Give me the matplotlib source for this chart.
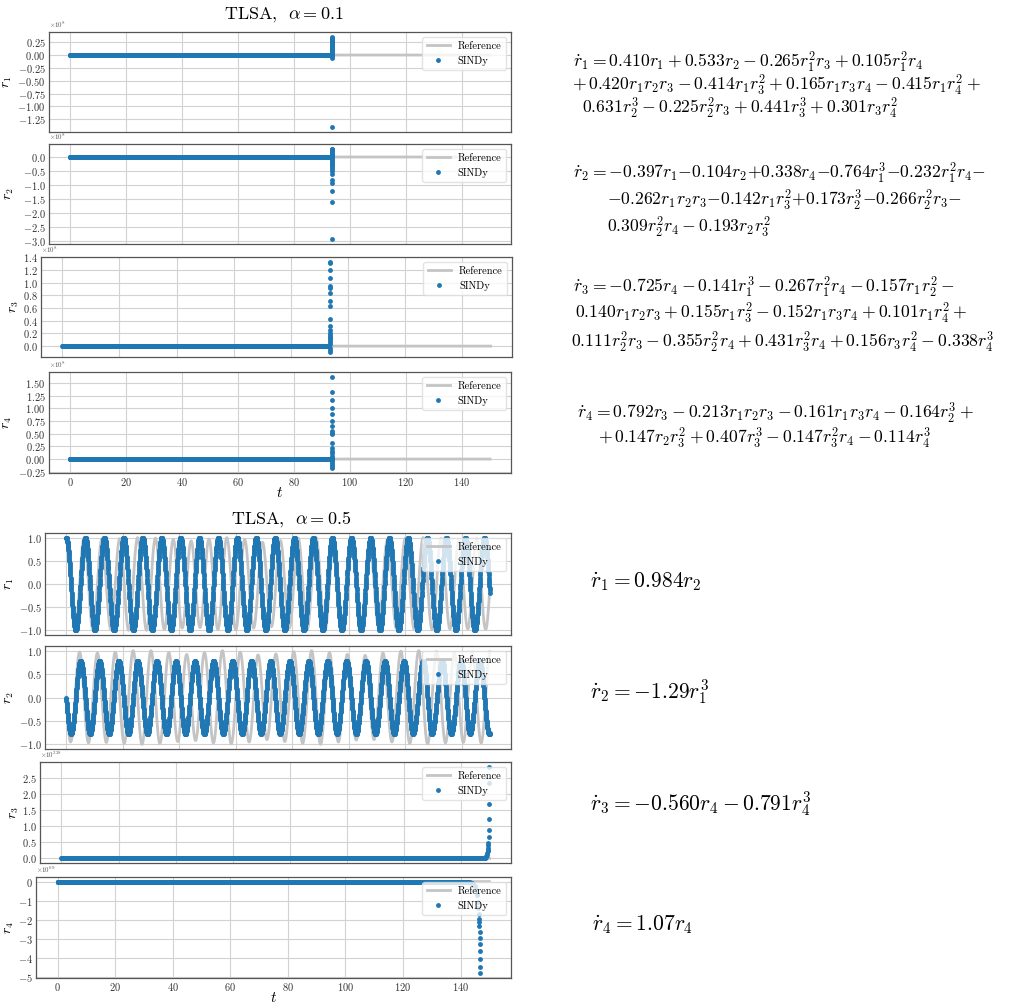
import numpy as np
import matplotlib
matplotlib.use("Agg")
import matplotlib.pyplot as plt
from matplotlib.ticker import MaxNLocator

plt.rcParams["font.family"] = "serif"
plt.rcParams["font.serif"] = ["cmr10"]
plt.rcParams["mathtext.fontset"] = "cm"
plt.rcParams["axes.formatter.use_mathtext"] = True
plt.rcParams["axes.unicode_minus"] = True

W, H = 1018, 1006
BLUE = "#1f77b4"
GRAY = "#c4c4c4"

# ---------------- data ----------------
t_end = 150.0

# reference (alpha = 0.5 panel shows it at O(1)); extrema times / values
ref_r1_peak_t = [0.0, 6.32, 12.64, 18.96, 25.28, 31.60, 37.92, 44.24, 50.56, 56.88, 63.20, 69.52,
                 75.84, 82.16, 88.48, 94.80, 101.12, 107.44, 113.76, 120.08, 126.40, 132.72, 139.04,
                 145.36, 151.68]
ref_r1_peak_v = [1.0, 0.99, 0.97, 0.98, 1.0, 0.99, 0.96, 0.93, 0.97, 1.0, 0.96, 0.90, 0.94, 0.99,
                 1.0, 0.97, 0.93, 0.90, 0.95, 0.99, 1.0, 0.98, 0.95, 0.97, 0.99]
ref_r1_trough_t = [3.16, 9.48, 15.80, 22.12, 28.44, 34.76, 41.08, 47.40, 53.72, 60.04, 66.36, 72.68,
                   79.00, 85.32, 91.64, 97.96, 104.28, 110.60, 116.92, 123.24, 129.56, 135.88,
                   142.20, 148.52]
ref_r1_trough_v = [-1.0, -0.99, -0.98, -1.0, -1.0, -0.98, -0.95, -0.94, -0.98, -0.99, -0.95, -0.92,
                   -0.95, -0.99, -1.0, -0.96, -0.92, -0.91, -0.96, -0.98, -0.99, -0.97, -0.97, -0.98]

ref_r2_peak_t = [-1.58, 4.74, 11.06, 17.38, 23.70, 30.02, 36.34, 42.66, 48.98, 55.30, 61.62, 67.94,
                 74.26, 80.58, 86.90, 93.22, 99.54, 105.86, 112.18, 118.50, 124.82, 131.14, 137.46,
                 143.78, 150.10]
ref_r2_peak_v = [0.97, 0.97, 0.95, 0.97, 1.0, 1.0, 0.96, 0.92, 0.96, 1.0, 0.97, 0.91, 0.93, 0.98,
                 1.0, 0.96, 0.92, 0.90, 0.95, 0.99, 1.0, 0.98, 0.95, 0.97, 0.98]
ref_r2_trough_t = [1.58, 7.90, 14.22, 20.54, 26.86, 33.18, 39.50, 45.82, 52.14, 58.46, 64.78, 71.10,
                   77.42, 83.74, 90.06, 96.38, 102.70, 109.02, 115.34, 121.66, 127.98, 134.30,
                   140.62, 146.94, 153.26]
ref_r2_trough_v = [-0.95, -0.97, -0.96, -0.98, -1.0, -0.98, -0.94, -0.92, -0.97, -0.99, -0.95, -0.90,
                   -0.94, -0.98, -1.0, -0.95, -0.91, -0.90, -0.95, -0.98, -0.99, -0.97, -0.96, -0.97,
                   -0.98]

# SINDy, alpha = 0.5: r1, r2 oscillations
sindy_r1_peak_t = [0.0, 6.8, 13.5, 20.4, 27.1, 33.8, 40.5, 47.2, 53.9, 60.6, 67.3, 74.0, 80.8, 87.5,
                   94.2, 101.0, 107.8, 114.4, 121.1, 127.8, 134.6, 141.3, 148.1]
sindy_r1_trough_t = [3.4, 10.15, 16.95, 23.75, 30.45, 37.15, 43.85, 50.55, 57.25, 63.95, 70.65,
                     77.4, 84.15, 90.85, 97.6, 104.4, 111.1, 117.75, 124.45, 131.2, 137.95, 144.7,
                     151.5]
sindy_r1_amp = 1.0
sindy_r2_peak_t = [-1.7, 5.1, 11.8, 18.6, 25.3, 32.1, 38.9, 45.6, 52.2, 58.9, 65.6, 72.4, 79.2, 85.9,
                   92.6, 99.3, 106.1, 112.9, 119.6, 126.4, 133.1, 139.8, 146.4, 153.2]
sindy_r2_trough_t = [1.7, 8.5, 15.2, 22.1, 28.8, 35.5, 42.2, 48.9, 55.6, 62.3, 69.0, 75.7, 82.5,
                     89.2, 95.9, 102.7, 109.5, 116.1, 122.8, 129.5, 136.3, 143.0, 149.8]
sindy_r2_amp = 0.78

# SINDy, alpha = 0.1: blow-up at t ~ 93.6 (values in units of the offset)
blowup_t_a01 = 93.6
burst_a01 = {
    1: [0.36, 0.34, 0.32, 0.30, 0.28, 0.26, 0.24, 0.22, 0.20, 0.18, 0.16, 0.14, 0.12, 0.10, 0.08,
        0.06, 0.04, 0.02, -0.03, -0.05, -1.41],
    2: [0.30, 0.27, 0.24, 0.21, 0.18, 0.15, 0.12, 0.09, 0.06, 0.03, -0.05, -0.10, -0.15, -0.20,
        -0.25, -0.30, -0.35, -0.43, -0.51, -0.60, -0.80, -0.92, -1.21, -1.59, -2.93],
    3: [1.33, 1.31, 1.19, 1.07, 0.94, 0.92, 0.83, 0.71, 0.63, 0.43, 0.32, 0.25, 0.21, 0.18, 0.15,
        0.12, 0.09, 0.06, 0.03, -0.03, -0.06, -0.10],
    4: [1.63, 1.32, 1.17, 1.00, 0.89, 0.75, 0.65, 0.555, 0.52, 0.49, 0.31, 0.22, 0.165, 0.11, 0.066,
        0.03, -0.03, -0.07, -0.11, -0.15, -0.185],
}
scale_a01 = {1: 1e8, 2: 1e8, 3: 1e8, 4: 1e8}

# SINDy, alpha = 0.5: r3 / r4 tails
r3_tail_t = [148.4, 148.7, 148.9, 149.1, 149.2, 149.3, 149.4, 149.5, 149.55, 149.6, 149.65, 149.7,
             149.75, 149.8, 149.85, 149.9]
r3_tail_v = [0.02, 0.05, 0.08, 0.12, 0.17, 0.22, 0.26, 0.33, 0.41, 0.49, 0.656, 0.885, 1.23, 1.68,
             2.32, 2.84]
r3_scale = 1e228
r4_tail_t = [142.6, 143.2, 143.8, 144.4, 144.9, 145.3, 145.7, 146.0, 146.2, 146.35, 146.45, 146.5,
             146.55, 146.6, 146.63, 146.66, 146.7, 146.73, 146.76, 146.8]
r4_tail_v = [-0.01, -0.03, -0.07, -0.14, -0.25, -0.42, -0.70, -1.05, -1.40, -1.70, -1.94, -2.12,
             -2.35, -2.62, -2.93, -3.27, -3.62, -4.05, -4.49, -4.81]
r4_scale = 1e69

eqs_a01 = [
    [r"$\dot{r}_1 = 0.410r_1 + 0.533r_2 - 0.265r_1^2r_3 + 0.105r_1^2r_4$",
     r"$+\, 0.420r_1r_2r_3 - 0.414r_1r_3^2 + 0.165r_1r_3r_4 - 0.415r_1r_4^2 +$",
     r"$0.631r_2^3 - 0.225r_2^2r_3 + 0.441r_3^3 + 0.301r_3r_4^2$"],
    [r"$\dot{r}_2 = -0.397r_1{-}0.104r_2{+}0.338r_4{-}0.764r_1^3{-}0.232r_1^2r_4{-}$",
     r"${-}0.262r_1r_2r_3{-}0.142r_1r_3^2{+}0.173r_2^3{-}0.266r_2^2r_3{-}$",
     r"$0.309r_2^2r_4 - 0.193r_2r_3^2$"],
    [r"$\dot{r}_3 = -0.725r_4 - 0.141r_1^3 - 0.267r_1^2r_4 - 0.157r_1r_2^2 -$",
     r"$0.140r_1r_2r_3 + 0.155r_1r_3^2 - 0.152r_1r_3r_4 + 0.101r_1r_4^2 +$",
     r"$0.111r_2^2r_3 - 0.355r_2^2r_4 + 0.431r_3^2r_4 + 0.156r_3r_4^2 - 0.338r_4^3$"],
    [r"$\dot{r}_4 = 0.792r_3 - 0.213r_1r_2r_3 - 0.161r_1r_3r_4 - 0.164r_2^3 +$",
     r"$+\, 0.147r_2r_3^2 + 0.407r_3^3 - 0.147r_3^2r_4 - 0.114r_4^3$"],
]
eqs_a05 = [r"$\dot{r}_1 = 0.984r_2$", r"$\dot{r}_2 = -1.29r_1^3$",
           r"$\dot{r}_3 = -0.560r_4 - 0.791r_4^3$", r"$\dot{r}_4 = 1.07r_4$"]


def through_extrema(t, peak_t, peak_v, trough_t, trough_v):
    # join the read extrema with half-cosine arcs
    et = np.concatenate([peak_t, trough_t])
    ev = np.concatenate([peak_v, trough_v])
    order = np.argsort(et)
    et, ev = et[order], ev[order]
    idx = np.clip(np.searchsorted(et, t) - 1, 0, len(et) - 2)
    ta, tb = et[idx], et[idx + 1]
    va, vb = ev[idx], ev[idx + 1]
    ph = np.clip((t - ta) / (tb - ta), 0, 1)
    return (va + vb) / 2 + (va - vb) / 2 * np.cos(np.pi * ph)


t_ref = np.linspace(0, t_end, 1501)
t_sindy = np.arange(0, t_end + 1e-9, 0.05)

ref = {
    1: through_extrema(t_ref, np.array(ref_r1_peak_t), np.array(ref_r1_peak_v),
                       np.array(ref_r1_trough_t), np.array(ref_r1_trough_v)),
    2: through_extrema(t_ref, np.array(ref_r2_peak_t), np.array(ref_r2_peak_v),
                       np.array(ref_r2_trough_t), np.array(ref_r2_trough_v)),
    3: np.zeros_like(t_ref),
    4: np.zeros_like(t_ref),
}

# alpha = 0.1 SINDy series
a01 = {}
t_pre = t_sindy[t_sindy < blowup_t_a01]
for k in range(1, 5):
    b = np.array(burst_a01[k]) * scale_a01[k]
    a01[k] = (np.concatenate([t_pre, np.full(len(b), blowup_t_a01)]),
              np.concatenate([np.zeros_like(t_pre), b]))

# alpha = 0.5 SINDy series
a05 = {}
a05[1] = (t_sindy, through_extrema(t_sindy, np.array(sindy_r1_peak_t),
                                   np.full(len(sindy_r1_peak_t), sindy_r1_amp),
                                   np.array(sindy_r1_trough_t),
                                   np.full(len(sindy_r1_trough_t), -sindy_r1_amp)))
a05[2] = (t_sindy, through_extrema(t_sindy, np.array(sindy_r2_peak_t),
                                   np.full(len(sindy_r2_peak_t), sindy_r2_amp),
                                   np.array(sindy_r2_trough_t),
                                   np.full(len(sindy_r2_trough_t), -sindy_r2_amp)))
t3 = t_sindy[t_sindy < r3_tail_t[0]]
a05[3] = (np.concatenate([t3, r3_tail_t]),
          np.concatenate([np.zeros_like(t3), np.array(r3_tail_v) * r3_scale]))
t4 = t_sindy[t_sindy < r4_tail_t[0]]
a05[4] = (np.concatenate([t4, r4_tail_t]),
          np.concatenate([np.zeros_like(t4), np.array(r4_tail_v) * r4_scale]))

# ---------------- layout (pixel boxes: left, top, right, bottom) ----------------
boxes_a01 = [(49, 32, 511, 132), (49, 144, 511, 244), (41, 257, 512, 357), (49, 372, 511, 473)]
boxes_a05 = [(45, 533, 511, 635), (45, 646, 511, 749), (40, 762, 511, 863), (36, 877, 511, 978)]
ylab_x_a01 = [14, 16, 21, 14]
ylab_x_a05 = [16, 16, 21, 16]
nbins_a01 = [8, 8, 8, 8]
nbins_a05 = [5, 5, 7, 6]

fig = plt.figure(figsize=(W / 100, H / 100), dpi=100)


def add_ax(box):
    l, t, r, b = box
    return fig.add_axes([l / W, 1 - b / H, (r - l) / W, (b - t) / H])


def style(ax, k, box, ylab_x, nbins, last):
    ax.grid(True, color="#d2d2d2", lw=0.8)
    ax.set_axisbelow(True)
    for s in ax.spines.values():
        s.set_color("#555555")
        s.set_linewidth(0.9)
    ax.yaxis.set_major_locator(MaxNLocator(nbins=nbins, steps=[1, 2, 2.5, 5, 10]))
    ax.tick_params(length=0, labelsize=7.5, labelcolor="#333333", pad=2.5)
    ax.yaxis.get_offset_text().set_fontsize(5)
    ax.yaxis.get_offset_text().set_color("#555555")
    ax.set_xticks([0, 20, 40, 60, 80, 100, 120, 140])
    ax.set_xlim(-7.5, 157.5)
    if not last:
        ax.set_xticklabels([])
    else:
        ax.set_xlabel(r"$t$", fontsize=11, labelpad=-2)
    ax.set_ylabel(r"$r_%d$" % k, fontsize=10)
    l, t, r, b = box
    ax.yaxis.set_label_coords((ylab_x - l) / (r - l), 0.5)
    ax.legend(loc="upper right", fontsize=7.5, framealpha=0.8, edgecolor="#dddddd",
              handlelength=2.2, borderaxespad=0.5)


for k in range(1, 5):
    ax = add_ax(boxes_a01[k - 1])
    ax.plot(t_ref, ref[k], color=GRAY, lw=2, label="Reference")
    ax.plot(a01[k][0], a01[k][1], "o", color=BLUE, ms=3.5, mew=0, label="SINDy")
    style(ax, k, boxes_a01[k - 1], ylab_x_a01[k - 1], nbins_a01[k - 1], k == 4)

for k in range(1, 5):
    ax = add_ax(boxes_a05[k - 1])
    ax.plot(t_ref, ref[k], color=GRAY, lw=2, label="Reference")
    ax.plot(a05[k][0], a05[k][1], "o", color=BLUE, ms=3.5, mew=0, label="SINDy")
    style(ax, k, boxes_a05[k - 1], ylab_x_a05[k - 1], nbins_a05[k - 1], k == 4)

fig.text(284 / W, 1 - 15 / H, r"TLSA, $\ \alpha = 0.1$", ha="center", va="center", fontsize=13)
fig.text(291 / W, 1 - 519 / H, r"TLSA, $\ \alpha = 0.5$", ha="center", va="center", fontsize=13)

# equations, alpha = 0.1
eq_pos_a01 = [[(573, 62), (572, 85), (582, 108)],
              [(573, 173), (607, 200), (607, 227)],
              [(573, 287), (575, 313), (571, 342)],
              [(577, 413), (598, 438)]]
for lines, pos in zip(eqs_a01, eq_pos_a01):
    for s, (x, y) in zip(lines, pos):
        fig.text(x / W, 1 - y / H, s, ha="left", va="center", fontsize=12.7)

eq_pos_a05 = [(590, 582), (590, 692), (590, 804), (592, 925)]
for s, (x, y) in zip(eqs_a05, eq_pos_a05):
    fig.text(x / W, 1 - y / H, s, ha="left", va="center", fontsize=15.5)

fig.savefig("out.png", dpi=100)
